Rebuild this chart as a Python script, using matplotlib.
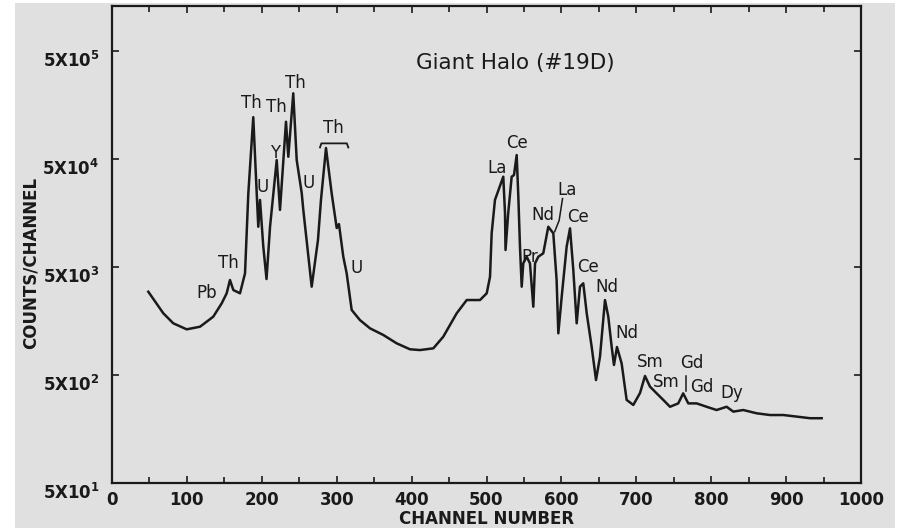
import matplotlib
matplotlib.use("Agg")
import matplotlib.pyplot as plt
from matplotlib.patches import Rectangle
from matplotlib.transforms import ScaledTranslation

# Spectrum trace: channel number vs counts per channel
channels = [48.5, 68.5, 81.8, 99.7, 117.5, 135.2, 146.5, 153.1, 157.5, 162.0,
            170.9, 177.6, 182.0, 188.6, 193.2, 195.3, 197.6, 202.0, 206.3, 211.0,
            219.9, 224.3, 232.3, 235.4, 242.0, 246.6, 253.3, 255.4, 266.6, 275.0,
            279.0, 285.7, 293.3, 300.0, 303.0, 308.8, 313.3, 320.0, 331.0, 344.5,
            362.2, 380.0, 397.9, 411.2, 429.0, 442.3, 460.2, 473.6, 491.3, 500.3,
            504.7, 506.9, 511.3, 522.4, 524.7, 525.4, 529.0, 533.6, 536.7, 540.3,
            542.5, 544.7, 547.0, 549.1, 553.6, 558.0, 562.5, 564.8, 569.2, 575.8,
            582.5, 589.2, 593.6, 595.9, 600.4, 607.0, 611.5, 615.9, 620.4, 624.8,
            629.2, 633.8, 640.4, 646.2, 651.5, 658.2, 662.6, 667.1, 670.2, 674.2,
            680.4, 687.1, 696.0, 705.0, 711.6, 718.3, 727.2, 736.0, 745.0, 756.0,
            762.6, 769.4, 780.6, 793.9, 807.2, 820.6, 829.5, 842.8, 860.7, 878.5,
            896.3, 914.1, 931.9, 947.5]
counts = [2950, 1864, 1506, 1324, 1400, 1734, 2307, 2856, 3790, 3060,
          2856, 4373, 24000, 122000, 24200, 11800, 20900, 7710, 3870, 11800,
          48900, 16900, 110700, 52500, 203000, 48900, 24200, 16900, 3287, 8900,
          20900, 63200, 24000, 11480, 12500, 6230, 4373, 2000, 1614, 1352,
          1174, 983, 865, 851, 883, 1132, 1864, 2473, 2473, 2856,
          4066, 10260, 20900, 34300, 15800, 7187, 15800, 34300, 35500, 54400,
          22400, 7710, 3287, 5410, 6230, 5410, 2145, 5410, 6230, 6700,
          11800, 10260, 3790, 1216, 2655, 7710, 11400, 4690, 1506, 3287,
          3532, 1864, 914, 449, 738, 2473, 1734, 914, 619, 908,
          641, 294, 264, 341, 490, 390, 338, 294, 254, 273,
          338, 273, 273, 254, 237, 254, 229, 237, 221, 213,
          213, 206, 199, 199]

# Element labels and where they sit (channel, counts)
peak_names = ["Pb", "Th", "Th", "U", "Y", "Th", "Th", "U", "Th", "U",
              "La", "Ce", "Nd", "La", "Ce", "Pr", "Ce", "Nd", "Nd",
              "Sm", "Sm", "Gd", "Gd", "Dy"]
peak_x = [126.8, 154.9, 186.5, 201.2, 217.6, 219.9, 244.3, 262.1, 295.5, 326.6,
          513.6, 540.3, 575.8, 607.0, 622.6, 558.0, 636.0, 660.4, 687.1,
          718.3, 740.5, 774.0, 787.2, 827.4]
peak_y = [2870, 5445, 164000, 27700, 56500, 152000, 251000, 29800, 96000, 4860,
          41000, 69800, 15100, 25800, 14600, 6230, 5035, 3287, 1216,
          664, 433, 641, 390, 338]

x_ticks = [0, 100, 200, 300, 400, 500, 600, 700, 800, 900, 1000]
y_ticks = [50, 500, 5000, 50000, 500000]
y_tick_labels = [r"$\mathbf{5X10^{1}}$", r"$\mathbf{5X10^{2}}$", r"$\mathbf{5X10^{3}}$",
                 r"$\mathbf{5X10^{4}}$", r"$\mathbf{5X10^{5}}$"]

ink = "#1a1a1a"
paper = "#e0e0e0"

fig = plt.figure(figsize=(9.01, 5.28), dpi=100)
fig.patch.set_facecolor("white")
# grey paper of the scanned sheet, with a thin white margin
fig.add_artist(Rectangle((15 / 901, 0), 880 / 901, 525 / 528,
                         transform=fig.transFigure, facecolor=paper,
                         edgecolor="none", zorder=-10))

ax = fig.add_axes([112 / 901, 1 - 483 / 528, 749 / 901, 477 / 528])
ax.set_facecolor("none")
ax.set_yscale("log")
ax.set_xlim(0, 1000)
ax.set_ylim(50, 1.306e6)

ax.plot(channels, counts, color=ink, linewidth=1.8, solid_joinstyle="round")

for name, x, y in zip(peak_names, peak_x, peak_y):
    ax.text(x, y, name, fontsize=12, color=ink, ha="center", va="center")

# bracket over the broad Th group
ax.plot([277.7, 279.5, 313.5, 315.5], [64000, 69800, 69800, 64000],
        color=ink, linewidth=1.3)
# little pointer strokes next to La and Gd
ax.plot([601.5, 597, 591], [21500, 13500, 10600], color=ink, linewidth=1.1)
ax.plot([766.5, 766.5], [490, 358], color=ink, linewidth=1.1)

ax.text(0.538, 0.8805, "Giant Halo (#19D)", transform=ax.transAxes,
        fontsize=15.5, color=ink, ha="center", va="center")

# axes frame and ticks
for side in ax.spines.values():
    side.set_linewidth(1.6)
    side.set_color(ink)

ax.set_xticks(x_ticks)
ax.set_xticks(range(50, 1000, 100), minor=True)
ax.set_yticks(y_ticks)
ax.set_yticklabels(y_tick_labels)
ax.yaxis.set_minor_locator(matplotlib.ticker.NullLocator())
ax.tick_params(axis="both", which="both", direction="in", top=True, right=True,
               color=ink, width=1.2)
ax.tick_params(axis="both", which="major", length=5, labelsize=12, labelcolor=ink)
ax.tick_params(axis="x", which="minor", length=4)
ax.tick_params(axis="x", pad=6)
ax.tick_params(axis="y", pad=9)
for lbl in ax.get_xticklabels():
    lbl.set_fontweight("bold")
for lbl in ax.get_yticklabels():
    lbl.set_transform(lbl.get_transform()
                      + ScaledTranslation(0, -8 / 100, fig.dpi_scale_trans))

ax.set_xlabel("CHANNEL NUMBER", fontsize=12, fontweight="bold", color=ink)
ax.xaxis.set_label_coords(0.5, -0.057)
ax.set_ylabel("COUNTS/CHANNEL", fontsize=12, fontweight="bold", color=ink)
ax.yaxis.set_label_coords(-0.097, 0.461)

fig.savefig("out.png", dpi=100, facecolor=fig.get_facecolor())
